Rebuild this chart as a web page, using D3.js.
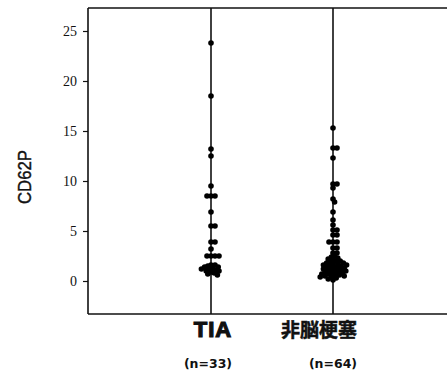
<!DOCTYPE html>
<html>
<head>
<meta charset="utf-8">
<script src="https://cdn.jsdelivr.net/npm/d3@7"></script>
<style>
  html, body { margin: 0; padding: 0; background: #fff; }
  svg { display: block; }
</style>
</head>
<body>
<svg id="chart" width="447" height="371"></svg>
<script>
// groups shown along the x axis
const categories = ['TIA', '非脳梗塞'];
const counts = ['(n=33)', '(n=64)'];

// CD62P values
const tiaValues = [
  23.8, 18.5, 13.2, 12.5, 9.5, 8.5, 8.5, 8.5, 6.9, 5.5, 5.5, 3.9, 3.9, 3.2,
  2.5, 2.5, 2.5, 2.5,
  1.6, 1.6, 1.5, 1.4, 1.4, 1.3, 1.2, 1.2, 1.1, 1.0, 1.0, 0.9, 0.8, 0.7, 0.6
];
const nonInfarctValues = [
  15.3, 13.3, 13.3, 12.3, 9.7, 9.7, 9.3, 8.2, 7.9, 6.9, 6.1, 5.6, 5.1, 5.1,
  4.6, 4.6, 3.9, 3.9, 3.9, 3.3, 3.3, 2.8, 2.8,
  2.5, 2.4, 2.3, 2.2, 2.1, 2.0, 2.0, 1.9, 1.8, 1.8, 1.7, 1.7, 1.6, 1.6,
  1.5, 1.5, 1.4, 1.4, 1.3, 1.3, 1.2, 1.2, 1.1, 1.1, 1.0, 1.0, 0.9, 0.9,
  0.8, 0.8, 0.7, 0.7, 0.6, 0.6, 0.5, 0.5, 0.4, 0.4, 0.3, 0.2, 0.1
];
const yTicks = [0, 5, 10, 15, 20, 25];

const series = [tiaValues, nonInfarctValues];

const svg = d3.select('#chart');
const frame = { left: 88, top: 8, bottom: 314, right: 447 };

const y = d3.scaleLinear().domain([-3.3, 27.3]).range([frame.bottom, frame.top]);
const x = d3.scalePoint().domain(categories).range([211, 333]);

// frame (no right edge visible in the scan)
svg.append('line')
  .attr('x1', frame.left).attr('x2', frame.left)
  .attr('y1', frame.top).attr('y2', frame.bottom)
  .attr('stroke', '#111').attr('stroke-width', 1.6);
[frame.top, frame.bottom].forEach((yy) => {
  svg.append('line')
    .attr('x1', frame.left).attr('x2', frame.right)
    .attr('y1', yy).attr('y2', yy)
    .attr('stroke', '#111').attr('stroke-width', 1.6);
});

// y axis
const yAxis = svg.append('g')
  .attr('transform', `translate(${frame.left},0)`)
  .call(d3.axisLeft(y).tickValues(yTicks).tickSize(5).tickPadding(6));
yAxis.select('.domain').remove();
yAxis.selectAll('line').attr('stroke', '#111').attr('stroke-width', 1.2);
yAxis.selectAll('text')
  .attr('font-family', '"Liberation Serif", "DejaVu Serif", serif')
  .attr('font-size', 14)
  .attr('fill', '#111');

svg.append('text')
  .attr('transform', 'translate(31,177) rotate(-90)')
  .attr('text-anchor', 'middle')
  .attr('font-family', '"Liberation Sans", Arial, sans-serif')
  .attr('font-size', 18)
  .attr('textLength', 54)
  .attr('lengthAdjust', 'spacingAndGlyphs')
  .attr('fill', '#111')
  .attr('stroke', '#111')
  .attr('stroke-width', 0.4)
  .text('CD62P');

// vertical group lines
categories.forEach((c) => {
  svg.append('line')
    .attr('x1', x(c)).attr('x2', x(c))
    .attr('y1', frame.top).attr('y2', frame.bottom)
    .attr('stroke', '#111').attr('stroke-width', 1.6);
});

// simple beeswarm dodge around each group line
const r = 2.8;
const diam = 3.3;
function dodge(values) {
  const placed = [];
  values.slice().sort((a, b) => b - a).forEach((v) => {
    const cy = y(v);
    let dx = 0;
    for (let k = 0; k < 200; k++) {
      const off = k === 0 ? 0 : (k % 2 ? 1 : -1) * Math.ceil(k / 2) * 0.8;
      const ok = placed.every((p) => {
        const ddx = p.dx - off, ddy = p.cy - cy;
        return ddx * ddx + ddy * ddy >= diam * diam;
      });
      if (ok) { dx = off; break; }
    }
    placed.push({ v, cy, dx });
  });
  return placed;
}

series.forEach((vals, i) => {
  const cx = x(categories[i]);
  svg.append('g')
    .selectAll('circle')
    .data(dodge(vals))
    .join('circle')
    .attr('cx', (d) => cx + d.dx)
    .attr('cy', (d) => d.cy)
    .attr('r', r)
    .attr('fill', '#000');
});

// category labels
const labelShift = [2, -14];
const countShift = [-3, 0];
categories.forEach((c, i) => {
  svg.append('text')
    .attr('x', x(c) + labelShift[i])
    .attr('y', 337)
    .attr('text-anchor', 'middle')
    .attr('font-family', i === 0 ? '"Liberation Sans", Arial, sans-serif' : '"Noto Sans CJK JP", sans-serif')
    .attr('font-weight', i === 0 ? 900 : 700)
    .attr('font-size', i === 0 ? 22 : 19)
    .attr('letter-spacing', i === 0 ? 1 : 0)
    .attr('fill', '#111')
    .attr('stroke', '#111')
    .attr('stroke-width', i === 0 ? 1.2 : 0.5)
    .text(c);
  svg.append('text')
    .attr('x', x(c) + countShift[i])
    .attr('y', 368)
    .attr('text-anchor', 'middle')
    .attr('font-family', '"DejaVu Sans", sans-serif')
    .attr('font-size', 12.5)
    .attr('font-weight', 600)
    .attr('fill', '#111')
    .text(counts[i]);
});
</script>
</body>
</html>
